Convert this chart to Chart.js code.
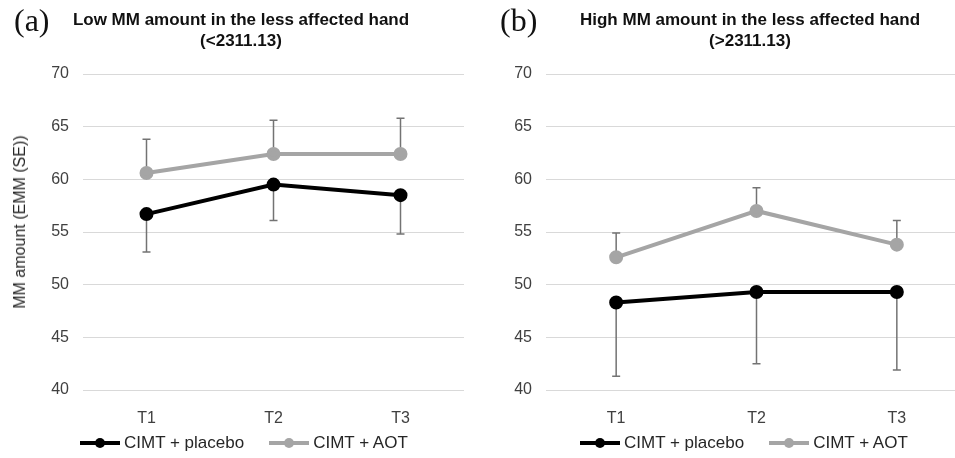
<!DOCTYPE html>
<html>
<head>
<meta charset="utf-8">
<script src="https://cdn.jsdelivr.net/npm/chart.js@4"></script>
<style>
  body { margin: 0; background: #fff; width: 955px; height: 458px; overflow: hidden; position: relative; font-family: "Liberation Sans", Arial, sans-serif; }
  canvas { position: absolute; top: 0; }
  .tag { position: absolute; font-family: "Liberation Serif", "Times New Roman", serif; font-size: 32px; color: #111; top: 0px; line-height: 40px; }
  .title { position: absolute; font-weight: bold; font-size: 17px; color: #111; text-align: center; line-height: 21px; top: 9px; }
  .ytitle { position: absolute; left: 20px; top: 222px; transform: translate(-50%, -50%) rotate(-90deg); white-space: nowrap; font-size: 16px; color: #262626; }
  .legend { position: absolute; top: 433px; display: flex; align-items: center; font-size: 17px; color: #262626; }
  .legend .sw { position: relative; width: 40px; height: 4px; margin-right: 4px; }
  .legend .sw i { position: absolute; left: 15px; top: -3px; width: 10px; height: 10px; border-radius: 50%; background: inherit; }
  .legend .item { display: flex; align-items: center; margin-right: 25px; }
</style>
</head>
<body>
<canvas id="lowChart" width="480" height="458" style="left:0"></canvas>
<canvas id="highChart" width="496" height="458" style="left:480px"></canvas>

<div class="tag" style="left:14px">(a)</div>
<div class="title" style="left:40px;width:402px">Low MM amount in the less affected hand<br>(&lt;2311.13)</div>
<div class="tag" style="left:500px">(b)</div>
<div class="title" style="left:550px;width:400px">High MM amount in the less affected hand<br>(&gt;2311.13)</div>
<div class="ytitle">MM amount (EMM (SE))</div>

<div class="legend" style="left:80px">
  <div class="item"><span class="sw" style="background:#000"><i></i></span>CIMT + placebo</div>
  <div class="item"><span class="sw" style="background:#a5a5a5"><i></i></span>CIMT + AOT</div>
</div>
<div class="legend" style="left:580px">
  <div class="item"><span class="sw" style="background:#000"><i></i></span>CIMT + placebo</div>
  <div class="item"><span class="sw" style="background:#a5a5a5"><i></i></span>CIMT + AOT</div>
</div>

<script>
const timepoints = ['T1', 'T2', 'T3'];

// low MM group (a)
const lowPlacebo = [56.7, 59.5, 58.5];
const lowPlaceboLower = [53.1, 56.1, 54.8];
const lowAot = [60.6, 62.4, 62.4];
const lowAotUpper = [63.8, 65.6, 65.8];

// high MM group (b)
const highPlacebo = [48.3, 49.3, 49.3];
const highPlaceboLower = [41.3, 42.5, 41.9];
const highAot = [52.6, 57.0, 53.8];
const highAotUpper = [54.9, 59.2, 56.1];

const FONT = '"Liberation Sans", Arial, sans-serif';

// one-sided error bars, drawn under the lines
const errorBars = {
  id: 'errorBars',
  beforeDatasetsDraw(chart) {
    const { ctx, scales: { x, y } } = chart;
    ctx.save();
    ctx.strokeStyle = '#737373';
    ctx.lineWidth = 1.5;
    chart.data.datasets.forEach(ds => {
      if (!ds.errEnd) return;
      ds.data.forEach((v, i) => {
        const px = x.getPixelForValue(i);
        const y0 = y.getPixelForValue(v);
        const y1 = y.getPixelForValue(ds.errEnd[i]);
        ctx.beginPath();
        ctx.moveTo(px, y0);
        ctx.lineTo(px, y1);
        ctx.moveTo(px - 4, y1);
        ctx.lineTo(px + 4, y1);
        ctx.stroke();
      });
    });
    ctx.restore();
  }
};

function makeChart(id, placebo, placeboLower, aot, aotUpper, yWidth, padRight) {
  return new Chart(document.getElementById(id), {
    type: 'line',
    data: {
      labels: timepoints,
      datasets: [
        {
          label: 'CIMT + placebo',
          data: placebo,
          errEnd: placeboLower,
          borderColor: '#000',
          backgroundColor: '#000',
          borderWidth: 4,
          pointRadius: 5,
          tension: 0
        },
        {
          label: 'CIMT + AOT',
          data: aot,
          errEnd: aotUpper,
          borderColor: '#a5a5a5',
          backgroundColor: '#a5a5a5',
          borderWidth: 4,
          pointRadius: 5,
          tension: 0
        }
      ]
    },
    options: {
      responsive: false,
      animation: false,
      layout: { padding: { top: 74, right: padRight, bottom: 0, left: 0 } },
      plugins: { legend: { display: false }, tooltip: { enabled: false } },
      scales: {
        x: {
          offset: true,
          grid: { display: false },
          border: { display: false },
          ticks: { color: '#404040', font: { family: FONT, size: 16 }, padding: 11 },
          afterFit: s => { s.height = 458 - 390; }
        },
        y: {
          min: 40,
          max: 70,
          ticks: { stepSize: 5, color: '#404040', font: { family: FONT, size: 16 }, padding: 14 },
          grid: { color: '#d9d9d9', lineWidth: 1, drawTicks: false },
          border: { display: false },
          afterFit: s => { s.width = yWidth; }
        }
      }
    },
    plugins: [errorBars]
  });
}

makeChart('lowChart', lowPlacebo, lowPlaceboLower, lowAot, lowAotUpper, 83, 16);
makeChart('highChart', highPlacebo, highPlaceboLower, highAot, highAotUpper, 66, 4);
</script>
</body>
</html>
